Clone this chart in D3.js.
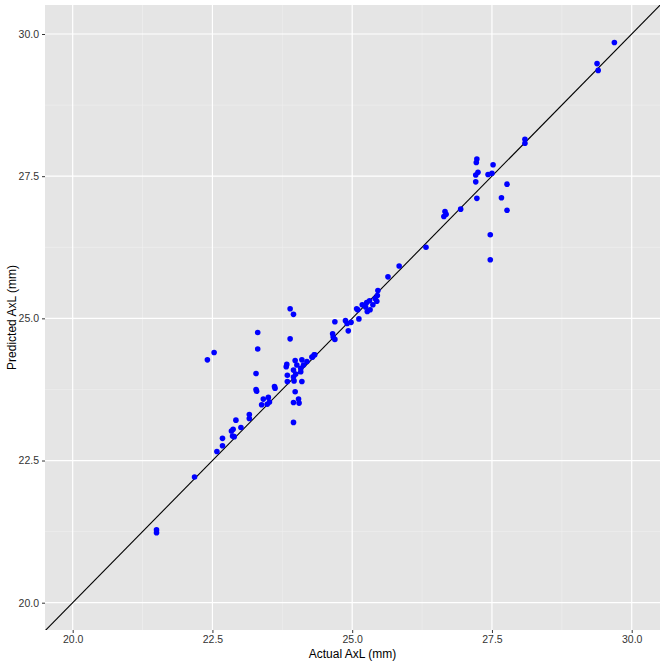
<!DOCTYPE html>
<html>
<head>
<meta charset="utf-8">
<script src="https://cdn.jsdelivr.net/npm/d3@7"></script>
<style>
  body { margin: 0; background: #fff; }
  svg { display: block; font-family: "Liberation Sans", Arial, sans-serif; }
</style>
</head>
<body>
<svg id="chart"></svg>
<script>
// actual vs predicted axial length (mm)
const actual = [
  29.69, 29.38, 29.40, 28.09, 28.09,
  27.23, 27.22, 27.25, 27.21, 27.21, 27.23, 27.52, 27.43, 27.50, 27.77, 27.67, 27.77, 27.47, 27.47,
  26.94, 26.66, 26.68, 26.64, 26.32, 25.84, 25.64,
  23.89, 23.95, 23.89, 24.69, 24.65, 24.66, 24.69, 24.88, 24.91, 24.98, 24.93,
  25.12, 25.08, 25.10, 25.18, 25.24, 25.31, 25.27, 25.32, 25.37, 25.44, 25.45, 25.46, 25.41, 25.26,
  24.32, 24.29,
  23.31, 23.31, 22.53, 22.41, 23.28, 23.28, 23.29, 23.61, 23.62, 23.41, 23.50, 23.52, 23.38, 23.48,
  23.16, 23.16, 22.92, 23.01, 22.87, 22.84, 22.86, 22.89, 22.68, 22.68, 22.58,
  23.95, 23.95, 24.04, 24.05, 23.98, 24.10, 23.83, 23.84, 23.84, 23.96, 23.95, 23.95, 23.99,
  24.01, 23.98, 24.10, 24.13, 24.19, 24.08, 24.08, 24.28, 24.33, 23.82,
  22.18, 21.50, 21.50
];
const predicted = [
  29.85, 29.48, 29.36, 28.15, 28.08,
  27.80, 27.74, 27.57, 27.52, 27.40, 27.11, 27.70, 27.53, 27.55, 27.36, 27.12, 26.90, 26.47, 26.03,
  26.92, 26.88, 26.83, 26.79, 26.25, 25.92, 25.73,
  25.17, 25.07, 24.64, 24.94, 24.73, 24.67, 24.63, 24.96, 24.91, 24.93, 24.78,
  24.99, 25.17, 25.15, 25.24, 25.20, 25.31, 25.12, 25.15, 25.24, 25.30, 25.40, 25.49, 25.35, 25.28,
  24.36, 24.32,
  24.75, 24.46, 24.40, 24.27, 24.03, 23.75, 23.72, 23.80, 23.77, 23.58, 23.61, 23.53, 23.48, 23.49,
  23.31, 23.24, 23.21, 23.08, 23.05, 23.02, 22.93, 22.92, 22.89, 22.76, 22.66,
  23.17, 23.52, 23.58, 23.51, 23.71, 23.89, 24.19, 24.00, 23.89, 23.90, 23.97, 24.09, 24.02,
  24.18, 24.26, 24.27, 24.18, 24.24, 24.12, 24.06, 24.32, 24.36, 24.15,
  22.21, 21.28, 21.23
];
const majorTicks = [20.0, 22.5, 25.0, 27.5, 30.0];
const minorTicks = [21.25, 23.75, 26.25, 28.75];
const tickLabels = ["20.0", "22.5", "25.0", "27.5", "30.0"];

const width = 666, height = 666;
const margin = { top: 5, right: 6, bottom: 36, left: 45 };
const w = width - margin.left - margin.right;
const h = height - margin.top - margin.bottom;

const svg = d3.select("#chart").attr("width", width).attr("height", height);
const g = svg.append("g").attr("transform", `translate(${margin.left},${margin.top})`);

const x = d3.scaleLinear().domain([19.505, 30.506]).range([0, w]);
const y = d3.scaleLinear().domain([19.52, 30.51]).range([h, 0]);

g.append("rect").attr("width", w).attr("height", h).attr("fill", "#e5e5e5");

g.append("clipPath").attr("id", "panel")
  .append("rect").attr("width", w).attr("height", h);

// minor grid
g.selectAll("line.minorx").data(minorTicks).enter().append("line")
  .attr("x1", d => x(d)).attr("x2", d => x(d)).attr("y1", 0).attr("y2", h)
  .attr("stroke", "#f0f0f0").attr("stroke-width", 0.6);
g.selectAll("line.minory").data(minorTicks).enter().append("line")
  .attr("y1", d => y(d)).attr("y2", d => y(d)).attr("x1", 0).attr("x2", w)
  .attr("stroke", "#f0f0f0").attr("stroke-width", 0.6);

// major grid
g.selectAll("line.majorx").data(majorTicks).enter().append("line")
  .attr("x1", d => x(d)).attr("x2", d => x(d)).attr("y1", 0).attr("y2", h)
  .attr("stroke", "#fff").attr("stroke-width", 1.2);
g.selectAll("line.majory").data(majorTicks).enter().append("line")
  .attr("y1", d => y(d)).attr("y2", d => y(d)).attr("x1", 0).attr("x2", w)
  .attr("stroke", "#fff").attr("stroke-width", 1.2);

// identity line
g.append("line")
  .attr("clip-path", "url(#panel)")
  .attr("x1", x(19)).attr("y1", y(19)).attr("x2", x(31)).attr("y2", y(31))
  .attr("stroke", "#000").attr("stroke-width", 1.1);

// points
g.selectAll("circle").data(actual).enter().append("circle")
  .attr("cx", d => x(d))
  .attr("cy", (d, i) => y(predicted[i]))
  .attr("r", 2.8)
  .attr("fill", "#0000ff");

// axes
const xAxis = d3.axisBottom(x).tickValues(majorTicks)
  .tickFormat((d, i) => tickLabels[i]).tickSize(3).tickPadding(3);
const yAxis = d3.axisLeft(y).tickValues(majorTicks)
  .tickFormat((d, i) => tickLabels[i]).tickSize(3).tickPadding(3);

const gx = g.append("g").attr("transform", `translate(0,${h})`).call(xAxis);
const gy = g.append("g").call(yAxis);
[gx, gy].forEach(a => {
  a.select(".domain").remove();
  a.selectAll(".tick line").attr("stroke", "#333");
  a.selectAll(".tick text").attr("fill", "#333").style("font-size", "10.5px");
});

svg.append("text")
  .attr("x", margin.left + w / 2).attr("y", 658)
  .attr("text-anchor", "middle").style("font-size", "12px").attr("fill", "#000")
  .text("Actual AxL (mm)");

svg.append("text")
  .attr("transform", `translate(16,${margin.top + h / 2}) rotate(-90)`)
  .attr("text-anchor", "middle").style("font-size", "12px").attr("fill", "#000")
  .text("Predicted AxL (mm)");
</script>
</body>
</html>
